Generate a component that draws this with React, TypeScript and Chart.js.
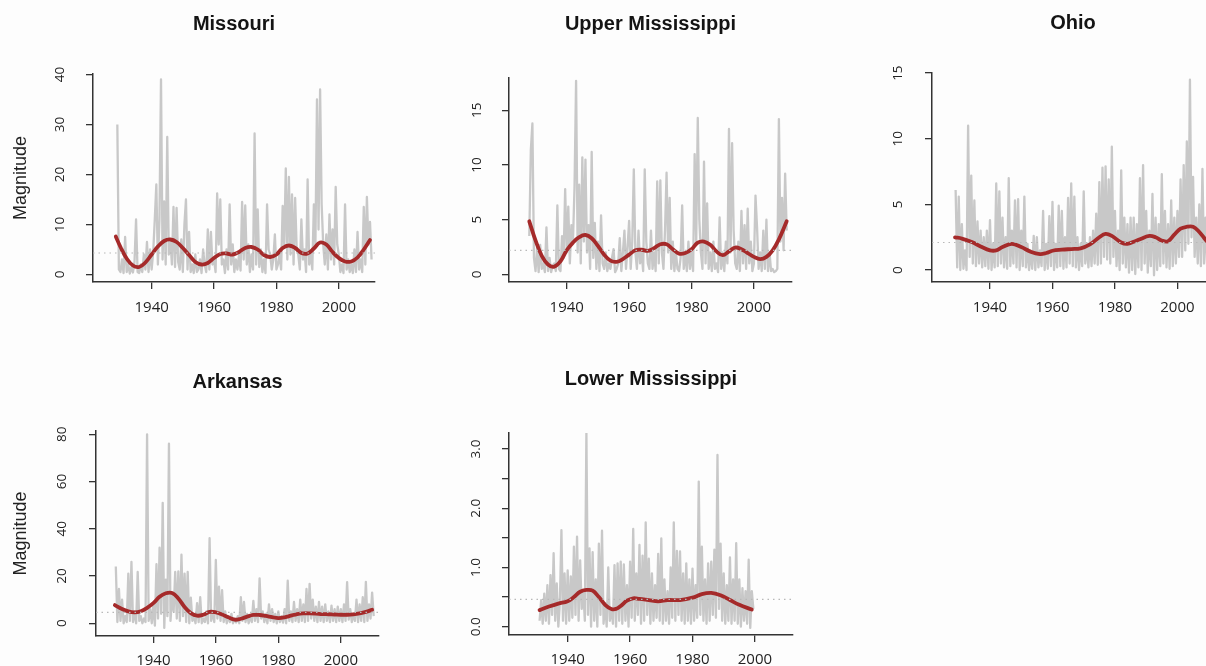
import React, { useEffect, useRef } from "react";
import { Chart, registerables } from "chart.js";

Chart.register(...registerables);

// ---------------- data ----------------
const xTickYears = [1940, 1960, 1980, 2000];
const halfYearStep = 0.5;

// Missouri
const missouriStart = 1929;
const missouriGray = [
  30, 1.0, 0.5, 3.0, 0.3, 7.5, 0.5, 2.0, 0.2, 1.5, 0.4, 2.5, 11, 0.5, 0.3, 2.0, 0.5, 4.0, 1.0, 6.5, 0.5, 5.0, 1.0, 4.5,
  11, 18, 2.0, 11, 39, 3.0, 14.6, 2.0, 27.5, 4.0, 7.0, 2.0, 13.5, 1.5, 13.3, 2.5, 1.0, 7.0, 0.5, 10,
  15, 1.0, 8.5, 0.5, 2.0, 0.3, 4.0, 0.5, 1.0, 3.0, 0.3, 5.0, 2.0, 0.5, 9.0, 1.0, 8.5, 2.0, 3.0, 0.5,
  16.2, 6.0, 15, 2.0, 3.0, 0.3, 5.0, 1.0, 14, 2.0, 6.0, 0.5, 3.0, 1.0, 4.0, 0.8, 14.5, 3.0, 13.8, 2.0,
  6.0, 0.5, 4.0, 1.0, 28.2, 2.0, 13.0, 1.5, 5.0, 0.5, 3.0, 0.3, 14, 5.0, 4.0, 1.0, 3.0, 8.0, 1.0, 2.0,
  4.0, 1.0, 13.7, 6.0, 21.2, 3.0, 19.5, 4.0, 16, 2.0, 15.3, 5.0, 4.0, 1.0, 11, 3.0, 5.0, 0.5, 19, 2.0,
  4.0, 1.0, 14, 6.0, 35, 9.0, 37, 14, 6.0, 2.0, 8.0, 1.0, 12, 3.0, 9.0, 2.0, 17.5, 6.0, 4.0, 0.5,
  2.0, 0.3, 14, 1.0, 3.0, 0.5, 2.0, 0.3, 5.0, 0.5, 8.5, 1.0, 3.0, 0.5, 13.5, 2.0, 15.5, 6.0, 10.5, 3.0,
];
const missouriSmoothYears = [
  1928.5, 1930, 1932, 1934, 1936, 1938, 1940, 1942, 1944, 1946, 1948, 1950, 1952, 1954, 1956, 1958, 1960, 1962, 1964, 1966, 1968,
  1970, 1972, 1974, 1976, 1978, 1980, 1982, 1984, 1986, 1988, 1990, 1992, 1994, 1996, 1998, 2000, 2002, 2004, 2006, 2008, 2010,
];
const missouriSmooth = [
  7.6, 5.5, 3.2, 1.8, 1.5, 2.4, 4.0, 5.6, 6.7, 7.0, 6.5, 5.3, 3.9, 2.5, 2.0, 2.3, 3.3, 4.1, 4.2, 4.0, 4.5,
  5.3, 5.5, 5.0, 3.9, 3.5, 4.0, 5.3, 5.8, 5.3, 4.3, 4.2, 5.2, 6.4, 6.0, 4.5, 3.3, 2.6, 2.6, 3.4, 5.0, 6.9,
];
const missouriMean = 4.3;
const missouriYTicks = [0, 10, 20, 30, 40];
const missouriYLabels = ["0", "10", "20", "30", "40"];

// Upper Mississippi
const upperStart = 1928;
const upperGray = [
  3.5, 11.4, 13.8, 1.5, 0.3, 2.5, 0.2, 2.7, 0.5, 1.0, 0.2, 4.3, 0.3, 1.5, 0.2, 0.8, 1.0, 0.3, 6.3, 0.5, 0.3, 3.5, 1.5, 7.8,
  2.0, 6.2, 1.0, 4.5, 3.0, 8.0, 17.7, 2.0, 8.2, 1.0, 10.7, 3.0, 10.5, 2.0, 4.5, 0.5, 11.2, 1.5, 4.7, 0.5,
  3.0, 0.3, 5.4, 1.0, 0.5, 2.0, 0.3, 1.0, 0.5, 1.5, 2.3, 0.2, 0.5, 1.0, 3.3, 0.3, 2.0, 4.0, 0.5, 2.5,
  4.9, 0.5, 3.0, 9.6, 2.0, 0.5, 4.0, 1.0, 2.0, 0.3, 9.6, 3.0, 1.0, 0.5, 4.0, 0.5, 2.0, 0.3, 8.5, 1.0,
  8.6, 2.0, 0.5, 4.0, 9.3, 2.0, 7.0, 0.5, 3.0, 0.3, 2.0, 0.5, 0.3, 1.5, 6.3, 0.5, 2.0, 0.3, 3.0, 0.5,
  2.0, 0.3, 11.0, 3.0, 14.3, 5.0, 2.0, 0.5, 10.3, 1.0, 6.5, 0.5, 2.0, 0.3, 3.0, 0.5, 1.0, 0.2, 5.2, 0.5,
  2.0, 0.3, 3.0, 1.0, 13.3, 2.0, 12.0, 4.0, 1.0, 0.5, 3.0, 0.3, 5.8, 1.0, 4.5, 0.5, 6.0, 1.0, 3.0, 0.3,
  1.0, 7.2, 4.3, 0.5, 2.0, 0.3, 4.0, 0.5, 5.0, 0.3, 2.0, 0.3, 0.5, 0.2, 0.3, 0.5, 14.2, 3.0, 7.0, 2.2, 9.2, 4.0,
];
const upperSmoothYears = [
  1928, 1930, 1932, 1934, 1936, 1938, 1940, 1942, 1944, 1946, 1948, 1950, 1952, 1954, 1956, 1958, 1960, 1962, 1964, 1966, 1968,
  1970, 1972, 1974, 1976, 1978, 1980, 1982, 1984, 1986, 1988, 1990, 1992, 1994, 1996, 1998, 2000, 2002, 2004, 2006, 2008, 2010.5,
];
const upperSmooth = [
  4.85, 3.1, 1.7, 0.9, 0.7, 1.2, 2.2, 2.9, 3.4, 3.6, 3.3, 2.6, 1.8, 1.25, 1.15, 1.4, 1.8, 2.2, 2.25, 2.15, 2.4,
  2.75, 2.75, 2.3, 1.9, 1.95, 2.3, 2.9, 3.0, 2.7, 2.1, 1.75, 2.1, 2.45, 2.3, 1.95, 1.6, 1.4, 1.6, 2.2, 3.2, 4.85,
];
const upperMean = 2.2;
const upperYTicks = [0, 5, 10, 15];
const upperYLabels = ["0", "5", "10", "15"];

// Ohio
const ohioStart = 1929;
const ohioGray = [
  6.1, 0.2, 5.6, 0.0, 3.5, 0.1, 1.5, 0.0, 11.0, 1.0, 7.2, 0.5, 5.3, 0.3, 3.7, 0.5, 3.0, 0.2, 2.5, 0.3, 3.0, 0.1, 3.8, 0.0,
  2.0, 0.2, 6.6, 0.3, 6.0, 0.5, 4.0, 0.2, 2.5, 0.1, 7.0, 0.3, 3.0, 0.5, 5.3, 0.2, 5.4, 0.0, 3.0, 0.3,
  5.6, 0.2, 2.0, 0.0, 1.5, 0.1, 2.6, 0.0, 2.5, 0.2, 1.5, 0.3, 4.5, 0.0, 2.0, 0.1, 4.1, 0.3, 5.2, 0.0,
  2.0, 0.2, 4.9, 0.3, 4.5, 0.1, 2.5, 0.2, 5.5, 0.5, 6.6, 0.3, 5.6, 0.2, 2.5, 0.0, 2.0, 0.3, 6.0, 0.5,
  2.0, 0.2, 2.5, 0.3, 3.0, 0.5, 4.3, 0.4, 6.7, 0.5, 7.8, 1.0, 7.9, 0.8, 6.9, 0.5, 9.4, 1.0, 4.5, 0.3,
  3.0, 0.0, 7.6, 0.5, 4.0, 0.2, 3.5, -0.2, 4.0, 0.0, 4.0, -0.3, 3.5, 0.2, 7.0, 0.0, 8.0, 0.5, 4.5, -0.2,
  3.0, 0.3, 5.8, -0.4, 4.0, 0.0, 3.5, 0.3, 7.3, 0.5, 4.5, 0.2, 3.5, 0.1, 5.3, 0.3, 4.0, 0.5, 4.5, 1.0,
  6.9, 1.0, 8.0, 1.5, 9.8, 2.0, 14.5, 2.5, 7.1, 1.0, 4.0, 0.5, 5.0, 0.3, 7.7, 0.5, 4.0, 0.3, 3.0, 0.5,
];
const ohioSmoothYears = [
  1928.8, 1931, 1934, 1937, 1940, 1942, 1944, 1947, 1950, 1953, 1956, 1958, 1960, 1963, 1966, 1969, 1972, 1975,
  1977, 1979, 1982, 1984, 1986, 1988, 1991, 1993, 1995, 1997, 1999, 2001, 2003, 2005, 2007, 2009, 2010.5,
];
const ohioSmooth = [
  2.49, 2.4, 2.15, 1.8, 1.5, 1.5, 1.75, 2.0, 1.75, 1.4, 1.22, 1.3, 1.47, 1.55, 1.6, 1.65, 1.95, 2.5,
  2.75, 2.6, 2.1, 2.0, 2.15, 2.35, 2.6, 2.5, 2.25, 2.2, 2.7, 3.15, 3.3, 3.3, 2.9, 2.3, 1.9,
];
const ohioMean = 2.1;
const ohioYTicks = [0, 5, 10, 15];
const ohioYLabels = ["0", "5", "10", "15"];

// Arkansas
const arkansasStart = 1928;
const arkansasGray = [
  24, 0.5, 14.5, 1.0, 10, 0.0, 3.0, 0.5, 21, 1.0, 26, 0.5, 5.0, 0.0, 21.7, 1.0, 3.0, 0.0, 2.0, 0.5, 80, 1.0, 6.0, 0.0,
  8.0, -1.0, 25, 2.0, 32, 4.0, 51, -2.0, 18.5, 3.0, 76, 1.0, 12, 5.0, 21.7, 2.0, 22, 1.0, 29, 3.0,
  21, 0.5, 21.7, 0.0, 10.8, 1.0, 3.0, 0.0, 8.5, 0.5, 11, 0.0, 2.0, 0.5, 5.0, 0.0, 36, 1.0, 5.0, 0.5,
  26.8, 2.0, 15.5, 1.0, 14, 0.5, 5.0, 0.0, 3.0, 0.5, 4.0, 0.0, 2.0, 0.3, 3.0, 0.0, 11, 1.0, 9.0, 0.5,
  4.0, 0.0, 3.0, 0.5, 9.5, 1.0, 6.0, 0.5, 19, 2.0, 5.0, 0.5, 4.0, 0.0, 8.0, 1.0, 6.0, 0.5, 4.0, 0.0,
  5.0, 0.5, 3.0, 0.3, 6.0, 0.0, 18, 1.0, 5.0, 0.5, 9.0, 1.0, 6.0, 0.5, 10, 1.0, 8.0, 0.5, 14.5, 1.0,
  16.7, 2.0, 10, 1.0, 7.0, 0.5, 9.0, 1.0, 7.0, 0.5, 8.0, 1.0, 5.0, 0.5, 7.5, 1.0, 6.0, 0.5, 7.0, 1.0,
  6.0, 0.5, 8.0, 1.0, 17.4, 1.5, 6.0, 0.5, 4.0, 1.0, 10, 0.5, 8.0, 1.0, 11, 0.5, 17.5, 1.0, 8.0, 2.0, 13, 3.0,
];
const arkansasSmoothYears = [
  1927.7, 1930, 1932, 1934, 1936, 1938, 1940, 1942, 1944, 1946, 1948, 1950, 1952, 1954, 1956, 1958, 1960, 1962, 1964, 1966, 1968,
  1970, 1972, 1974, 1976, 1978, 1980, 1982, 1984, 1986, 1988, 1990, 1992, 1994, 1996, 1998, 2000, 2002, 2004, 2006, 2008, 2010,
];
const arkansasSmooth = [
  7.7, 6.0, 5.0, 4.6, 5.1, 6.5, 8.5, 11.2, 12.7, 12.8, 10.5, 6.9, 4.3, 3.2, 3.6, 4.8, 4.6, 3.7, 2.5, 1.5, 1.9,
  2.8, 3.5, 3.5, 3.1, 2.6, 2.2, 2.5, 3.2, 3.9, 4.2, 4.2, 4.1, 3.9, 3.8, 3.7, 3.6, 3.6, 3.8, 4.2, 4.8, 5.7,
];
const arkansasMean = 4.6;
const arkansasYTicks = [0, 20, 40, 60, 80];
const arkansasYLabels = ["0", "20", "40", "60", "80"];

// Lower Mississippi
const lowerStart = 1931;
const lowerGray = [
  0.1, 0.45, 0.05, 0.56, 0.1, 0.7, 0.05, 0.87, 0.2, 1.24, 0.1, 0.73, 0.0, 0.4, 1.63, 0.1, 0.9, 0.05,
  0.95, 0.1, 0.85, 0.15, 1.35, 0.2, 1.52, 0.1, 1.12, 0.3, 0.6, 0.1, 3.27, 0.2, 1.32, 0.0, 1.26, 0.1, 0.8, 0.0,
  1.4, 0.2, 1.62, 0.05, 0.4, 0.0, 1.0, 0.1, 0.3, 0.05, 1.04, 0.0, 1.07, 0.1, 1.1, 0.05, 1.05, 0.1, 0.7, 0.0,
  1.1, 0.15, 1.65, 0.1, 0.9, 0.2, 1.38, 0.05, 1.2, 0.1, 1.76, 0.2, 1.15, 0.05, 0.9, 0.1, 0.7, 0.15, 1.23, 0.1,
  1.49, 0.05, 0.8, 0.1, 0.6, 0.05, 1.0, 0.15, 1.76, 0.1, 1.28, 0.2, 1.27, 0.1, 0.9, 0.05, 1.07, 0.1, 0.8, 0.05,
  0.98, 0.1, 0.7, 0.15, 2.45, 0.2, 1.35, 0.1, 0.8, 0.05, 1.07, 0.1, 1.1, 0.2, 1.3, 0.15, 2.9, 0.3, 1.4, 0.1,
  0.9, 0.05, 0.7, 0.1, 1.17, 0.05, 0.8, 0.1, 1.41, 0.05, 0.8, 0.0, 0.65, 0.1, 0.6, 0.05, 1.13, -0.02, 0.6, 0.3,
];
const lowerSmoothYears = [
  1931, 1934, 1937, 1940, 1942, 1944, 1946, 1948, 1950, 1952, 1954, 1955.5, 1957, 1959, 1961, 1963, 1966, 1969,
  1972, 1976, 1980, 1983, 1986, 1989, 1992, 1995, 1999,
];
const lowerSmooth = [
  0.28, 0.34, 0.39, 0.43, 0.5, 0.59, 0.62, 0.61, 0.5, 0.37, 0.3, 0.3, 0.35, 0.44, 0.48, 0.47, 0.45, 0.43,
  0.45, 0.45, 0.49, 0.55, 0.57, 0.53, 0.45, 0.37, 0.29,
];
const lowerMean = 0.46;
const lowerYTicks = [0, 0.5, 1, 1.5, 2, 2.5, 3];
const lowerYLabels = ["0.0", "", "1.0", "", "2.0", "", "3.0"];

// ---------------- layout / style ----------------
const AXIS_W = 93;
const TOP_H = 74;
const BOTTOM_H = 50;
const RIGHT_PAD = 25;

const TITLE_SIZE = 20;
const TITLE_FONT = "'Liberation Sans', Arial, Helvetica, sans-serif";
const TICK_FONT = "'Open Sans', 'Liberation Sans', sans-serif";
const LABEL_FONT = "'Liberation Sans', Arial, sans-serif";

const GRAY = "#c8c8c8";
const RED = "#a52a2a";
const AXIS = "#333333";
const TEXT = "#222222";

type Spec = {
  key: string;
  title: string;
  start: number;
  gray: number[];
  smoothYears: number[];
  smooth: number[];
  mean: number;
  yTicks: number[];
  yLabels: string[];
  ylab: string | null;
  L: number;
  T: number;
  R: number;
  B: number;
  xMin: number;
  xMax: number;
  yMin: number;
  yMax: number;
  titleY: number;
  ylabX: number;
  xLabPad: number;
  yLabPad: number;
};

const panels: Spec[] = [
  {
    key: "missouri", title: "Missouri", start: missouriStart, gray: missouriGray,
    smoothYears: missouriSmoothYears, smooth: missouriSmooth, mean: missouriMean,
    yTicks: missouriYTicks, yLabels: missouriYLabels, ylab: "Magnitude",
    L: 93, T: 74, R: 375, B: 282, xMin: 1921.2, xMax: 2011.6, yMin: -1.5, yMax: 40.1,
    titleY: 24.3, ylabX: 21.5, xLabPad: 10, yLabPad: 18.3,
  },
  {
    key: "upper", title: "Upper Mississippi", start: upperStart, gray: upperGray,
    smoothYears: upperSmoothYears, smooth: upperSmooth, mean: upperMean,
    yTicks: upperYTicks, yLabels: upperYLabels, ylab: null,
    L: 509, T: 78, R: 792, B: 282, xMin: 1921.5, xMax: 2012.2, yMin: -0.7, yMax: 17.96,
    titleY: 24.3, ylabX: 0, xLabPad: 10, yLabPad: 17.5,
  },
  {
    key: "ohio", title: "Ohio", start: ohioStart, gray: ohioGray,
    smoothYears: ohioSmoothYears, smooth: ohioSmooth, mean: ohioMean,
    yTicks: ohioYTicks, yLabels: ohioYLabels, ylab: null,
    L: 932, T: 73, R: 1214, B: 282, xMin: 1921.44, xMax: 2011.7, yMin: -0.91, yMax: 15.01,
    titleY: 23.6, ylabX: 0, xLabPad: 10, yLabPad: 19,
  },
  {
    key: "arkansas", title: "Arkansas", start: arkansasStart, gray: arkansasGray,
    smoothYears: arkansasSmoothYears, smooth: arkansasSmooth, mean: arkansasMean,
    yTicks: arkansasYTicks, yLabels: arkansasYLabels, ylab: "Magnitude",
    L: 96, T: 431, R: 379, B: 636, xMin: 1921.66, xMax: 2012.2, yMin: -5.4, yMax: 81.4,
    titleY: 382.5, ylabX: 21.5, xLabPad: 8.5, yLabPad: 19.5,
  },
  {
    key: "lower", title: "Lower Mississippi", start: lowerStart, gray: lowerGray,
    smoothYears: lowerSmoothYears, smooth: lowerSmooth, mean: lowerMean,
    yTicks: lowerYTicks, yLabels: lowerYLabels, ylab: null,
    L: 509, T: 433, R: 793, B: 635, xMin: 1921.2, xMax: 2012.2, yMin: -0.14, yMax: 3.27,
    titleY: 379.2, ylabX: 0, xLabPad: 8.5, yLabPad: 16.5,
  },
];

function Panel({ spec }: { spec: Spec }) {
  const ref = useRef<HTMLCanvasElement | null>(null);
  const width = spec.R - spec.L + AXIS_W + RIGHT_PAD;
  const height = spec.B - spec.T + TOP_H + BOTTOM_H;
  const left = spec.L - AXIS_W;
  const top = spec.T - TOP_H;

  useEffect(() => {
    const canvas = ref.current;
    if (!canvas) return;
    const titleLine = TITLE_SIZE * 1.2;
    const titlePadTop = spec.titleY - top - titleLine / 2;
    const titlePadBottom = TOP_H - titlePadTop - titleLine;
    const ylabLine = 18 * 1.2;
    const ylabPadTop = spec.ylabX - left - ylabLine / 2;

    const grayData = spec.gray.map((v, i) => ({ x: spec.start + i * halfYearStep, y: v }));
    const smoothData = spec.smoothYears.map((yr, i) => ({ x: yr, y: spec.smooth[i] }));
    const meanData = [
      { x: spec.xMin, y: spec.mean },
      { x: spec.xMax, y: spec.mean },
    ];

    const chart = new Chart(canvas, {
      type: "line",
      data: {
        datasets: [
          {
            label: "mean",
            data: meanData,
            borderColor: "#b8b8b8",
            borderWidth: 1.2,
            borderDash: [1.5, 4],
            pointRadius: 0,
            fill: false,
          },
          {
            label: "smooth",
            data: smoothData,
            borderColor: RED,
            borderWidth: 3.8,
            tension: 0.4,
            pointRadius: 0,
            borderCapStyle: "round",
            borderJoinStyle: "round",
            fill: false,
          },
          {
            label: "series",
            data: grayData,
            borderColor: GRAY,
            borderWidth: 2.3,
            tension: 0,
            pointRadius: 0,
            borderJoinStyle: "round",
            fill: false,
          },
        ],
      },
      options: {
        responsive: false,
        animation: false,
        devicePixelRatio: 1,
        events: [],
        layout: { padding: { left: 0, top: 0, right: RIGHT_PAD, bottom: 0 } },
        plugins: {
          legend: { display: false },
          tooltip: { enabled: false },
          title: {
            display: true,
            text: spec.title,
            fullSize: false,
            color: "#141414",
            font: { family: TITLE_FONT, size: TITLE_SIZE, weight: "bold", lineHeight: 1.2 },
            padding: { top: titlePadTop, bottom: titlePadBottom },
          },
        },
        scales: {
          x: {
            type: "linear",
            min: spec.xMin,
            max: spec.xMax,
            afterBuildTicks: (s: any) => {
              s.ticks = xTickYears.map((v) => ({ value: v }));
            },
            afterFit: (s: any) => {
              s.height = BOTTOM_H;
            },
            ticks: {
              autoSkip: false,
              maxRotation: 0,
              minRotation: 0,
              padding: spec.xLabPad,
              color: TEXT,
              font: { family: TICK_FONT, size: 15 },
              callback: (v: any) => String(v),
            },
            grid: { drawOnChartArea: false, drawTicks: true, tickLength: 7, color: AXIS, lineWidth: 1.3 },
            border: { display: true, color: AXIS, width: 1.5 },
          },
          y: {
            type: "linear",
            min: spec.yMin,
            max: spec.yMax,
            afterBuildTicks: (s: any) => {
              s.ticks = spec.yTicks.map((v) => ({ value: v }));
            },
            afterFit: (s: any) => {
              s.width = AXIS_W;
            },
            ticks: {
              autoSkip: false,
              minRotation: 90,
              maxRotation: 90,
              crossAlign: "center",
              padding: spec.yLabPad,
              color: TEXT,
              font: { family: TICK_FONT, size: 13.5 },
              callback: (_v: any, i: number) => spec.yLabels[i],
            },
            grid: { drawOnChartArea: false, drawTicks: true, tickLength: 7, color: AXIS, lineWidth: 1.3 },
            border: { display: true, color: AXIS, width: 1.5 },
            title: {
              display: !!spec.ylab,
              text: spec.ylab || "",
              color: TEXT,
              font: { family: LABEL_FONT, size: 18, lineHeight: 1.2 },
              padding: { top: ylabPadTop, bottom: 0 },
            },
          },
        },
      },
    } as any);
    return () => chart.destroy();
  }, []);

  return (
    <div style={{ position: "absolute", left, top, width, height }}>
      <canvas ref={ref} width={width} height={height} style={{ width, height, display: "block" }} />
    </div>
  );
}

export default function App() {
  return (
    <div
      style={{
        position: "absolute",
        left: 0,
        top: 0,
        width: 1206,
        height: 666,
        overflow: "hidden",
        background: "#fdfdfd",
      }}
    >
      {panels.map((p) => (
        <Panel key={p.key} spec={p} />
      ))}
    </div>
  );
}
